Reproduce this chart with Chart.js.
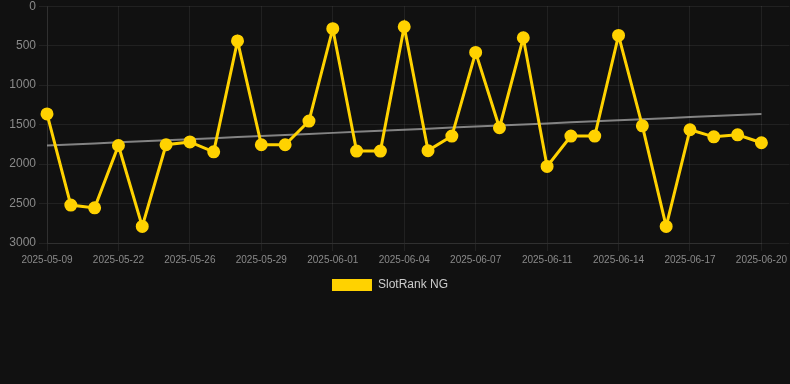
<!DOCTYPE html>
<html>
<head>
<meta charset="utf-8">
<script src="https://cdn.jsdelivr.net/npm/chart.js@4/dist/chart.umd.min.js"></script>
<style>
  html, body { margin: 0; padding: 0; background: #111111; overflow: hidden; }
  #wrap { width: 790px; height: 384px; background: #111111; overflow: hidden; }
  #c { display: block; margin-top: -4px; }
</style>
</head>
<body>
<div id="wrap"><canvas id="c" width="790" height="305"></canvas></div>
<script>
const categories = [
  '2025-05-09','2025-05-20','2025-05-21','2025-05-22','2025-05-23','2025-05-24',
  '2025-05-26','2025-05-27','2025-05-28','2025-05-29','2025-05-30','2025-05-31',
  '2025-06-01','2025-06-02','2025-06-03','2025-06-04','2025-06-05','2025-06-06',
  '2025-06-07','2025-06-08','2025-06-09','2025-06-11','2025-06-12','2025-06-13',
  '2025-06-14','2025-06-15','2025-06-16','2025-06-17','2025-06-18','2025-06-19',
  '2025-06-20'
];
const rankValues = [
  1365, 2520, 2555, 1765, 2790, 1755, 1720, 1845, 440, 1755, 1755, 1455,
  285, 1835, 1835, 260, 1830, 1645, 585, 1540, 400, 2030, 1645, 1645,
  370, 1515, 2790, 1565, 1655, 1630, 1730
];
const yTicks = [0, 500, 1000, 1500, 2000, 2500, 3000];
const seriesName = 'SlotRank NG';

// linear regression trend from the data
function trend(vals) {
  const n = vals.length;
  let sx = 0, sy = 0, sxy = 0, sxx = 0;
  vals.forEach((v, i) => { sx += i; sy += v; sxy += i * v; sxx += i * i; });
  const m = (n * sxy - sx * sy) / (n * sxx - sx * sx);
  const b = (sy - m * sx) / n;
  return vals.map((v, i) => m * i + b);
}
const trendValues = trend(rankValues);

const gridColor = 'rgba(255,255,255,0.07)';
const tickColor = '#8a8a8a';

const legendShift = {
  id: 'legendShift',
  afterLayout(chart) {
    if (chart.legend) { chart.legend.right -= 10; }
  }
};

new Chart(document.getElementById('c'), {
  type: 'line',
  data: {
    labels: categories,
    datasets: [
      {
        label: seriesName,
        data: rankValues,
        borderColor: '#FFD200',
        backgroundColor: '#FFD200',
        borderWidth: 3,
        pointRadius: 5,
        pointHoverRadius: 5,
        pointBackgroundColor: '#FFD200',
        pointBorderColor: '#FFD200',
        tension: 0,
        yAxisID: 'y'
      },
      {
        label: 'trend',
        data: trendValues,
        borderColor: 'rgba(170,170,170,0.75)',
        backgroundColor: 'rgba(170,170,170,0.75)',
        borderWidth: 2,
        pointRadius: 0,
        tension: 0,
        yAxisID: 'y'
      }
    ]
  },
  plugins: [legendShift],
  options: {
    responsive: false,
    animation: false,
    layout: { padding: { left: 0, right: 0, top: 0, bottom: 0 } },
    plugins: {
      legend: {
        position: 'bottom',
        labels: {
          color: '#cccccc',
          font: { size: 12 },
          boxWidth: 40,
          filter: (item) => item.text === seriesName,
          generateLabels: (chart) =>
            Chart.defaults.plugins.legend.labels.generateLabels(chart)
              .map(l => Object.assign(l, { lineWidth: 0 }))
        }
      },
      tooltip: { enabled: false }
    },
    scales: {
      x: {
        grid: { color: gridColor, tickLength: 8 },
        border: { color: gridColor },
        ticks: {
          color: tickColor,
          font: { size: 10 },
          autoSkip: false,
          maxRotation: 0,
          callback: function (val, idx) {
            return idx % 3 === 0 ? this.getLabelForValue(val) : null;
          }
        }
      },
      y: {
        reverse: true,
        min: yTicks[0],
        max: yTicks[yTicks.length - 1],
        afterBuildTicks: (s) => { s.ticks = yTicks.map(v => ({ value: v })); },
        afterFit: (s) => { s.width = 47; },
        grid: { color: gridColor, tickLength: 8 },
        border: { color: gridColor },
        ticks: { color: tickColor, font: { size: 12 }, padding: 3, callback: (v) => String(v) }
      },
      yRight: {
        position: 'right',
        reverse: true,
        min: yTicks[0],
        max: yTicks[yTicks.length - 1],
        afterBuildTicks: (s) => { s.ticks = yTicks.map(v => ({ value: v })); },
        grid: { color: gridColor, tickLength: 28, drawOnChartArea: false },
        border: { display: false },
        ticks: { display: false }
      }
    }
  }
});
</script>
</body>
</html>
